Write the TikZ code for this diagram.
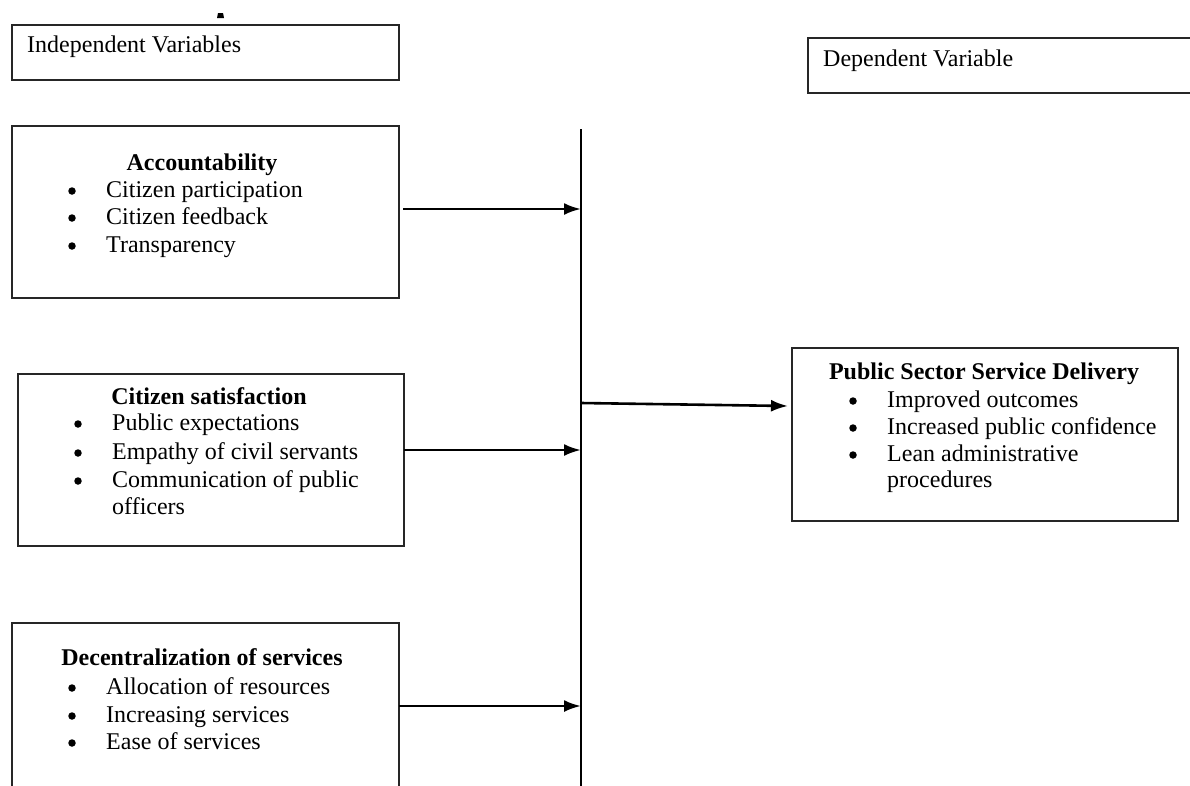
\documentclass[tikz,border=0pt]{standalone}
\usepackage{fontspec}
\setmainfont{Liberation Serif}
\usetikzlibrary{arrows.meta}
\begin{document}
\begin{tikzpicture}[x=1pt,y=-1pt,
  box/.style={draw=black!85,line width=2.3pt,rectangle,inner sep=0pt,anchor=north west},
  txt/.style={anchor=base west,inner sep=0pt,font=\fontsize{24}{28}\selectfont},
  ttl/.style={anchor=base,inner sep=0pt,font=\fontsize{24}{28}\selectfont\bfseries},
  bul/.style={anchor=center,circle,fill=black,inner sep=0pt,minimum size=7.5pt},
  conn/.style={line width=2.6pt,-{Latex[length=17pt,width=12pt]}},
  vline/.style={line width=2.6pt}]
\useasboundingbox (0,0) rectangle (1190,785);
\fill[white] (0,0) rectangle (1190,785);
% clipped fragment at top
\fill[black] (218,13) -- (223,13) -- (224,18) -- (217,18) -- cycle;
% header boxes
\node[box,minimum width=387pt,minimum height=55pt] (iv) at (11,24) {};
\node[txt] (ivt) at (27,52) {Independent Variables};
\node[box,minimum width=400pt,minimum height=55pt] (dv) at (807,37) {};
\node[txt] (dvt) at (823,66) {Dependent Variable};
% box 1
\node[box,minimum width=387pt,minimum height=172pt] (acc) at (11,125) {};
\node[ttl] (acct) at (202,170) {Accountability};
\node[bul] (b11) at (72,191) {};
\node[txt] (t11) at (106,197) {Citizen participation};
\node[bul] (b12) at (72,218) {};
\node[txt] (t12) at (106,224) {Citizen feedback};
\node[bul] (b13) at (72,246) {};
\node[txt] (t13) at (106,252) {Transparency};
% box 2
\node[box,minimum width=386pt,minimum height=172pt] (cs) at (17,373) {};
\node[ttl] (cst) at (209,404) {Citizen satisfaction};
\node[bul] (b21) at (78,424) {};
\node[txt] (t21) at (112,430) {Public expectations};
\node[bul] (b22) at (78,453) {};
\node[txt] (t22) at (112,459) {Empathy of civil servants};
\node[bul] (b23) at (78,481) {};
\node[txt] (t23) at (112,487) {Communication of public};
\node[txt] (t24) at (112,514) {officers};
% box 3
\node[box,minimum width=387pt,minimum height=175pt] (dec) at (11,622) {};
\node[ttl] (dect) at (202,665) {Decentralization of services};
\node[bul] (b31) at (72,688) {};
\node[txt] (t31) at (106,694) {Allocation of resources};
\node[bul] (b32) at (72,716) {};
\node[txt] (t32) at (106,722) {Increasing services};
\node[bul] (b33) at (72,743) {};
\node[txt] (t33) at (106,749) {Ease of services};
% box 4
\node[box,minimum width=386pt,minimum height=173pt] (psd) at (791,347) {};
\node[ttl] (psdt) at (984,379) {Public Sector Service Delivery};
\node[bul] (b41) at (853,401) {};
\node[txt] (t41) at (887,407) {Improved outcomes};
\node[bul] (b42) at (853,428) {};
\node[txt] (t42) at (887,434) {Increased public confidence};
\node[bul] (b43) at (853,455) {};
\node[txt] (t43) at (887,461) {Lean administrative};
\node[txt] (t44) at (887,487) {procedures};
% vertical collector line
\coordinate (vtop) at (581,129);
\coordinate (vbot) at (581,790);
\draw[vline] (vtop) -- (vbot);
\coordinate (a1) at (403,209);
\coordinate (a2) at (404,450);
\coordinate (a3) at (399,706);
\draw[conn] (a1) -- (vtop |- a1);
\draw[conn] (a2) -- (vtop |- a2);
\draw[conn] (a3) -- (vtop |- a3);
\coordinate (o1) at (581,403);
\coordinate (o2) at (788,406);
\draw[conn] (o1) -- (o2);
\end{tikzpicture}
\end{document}
